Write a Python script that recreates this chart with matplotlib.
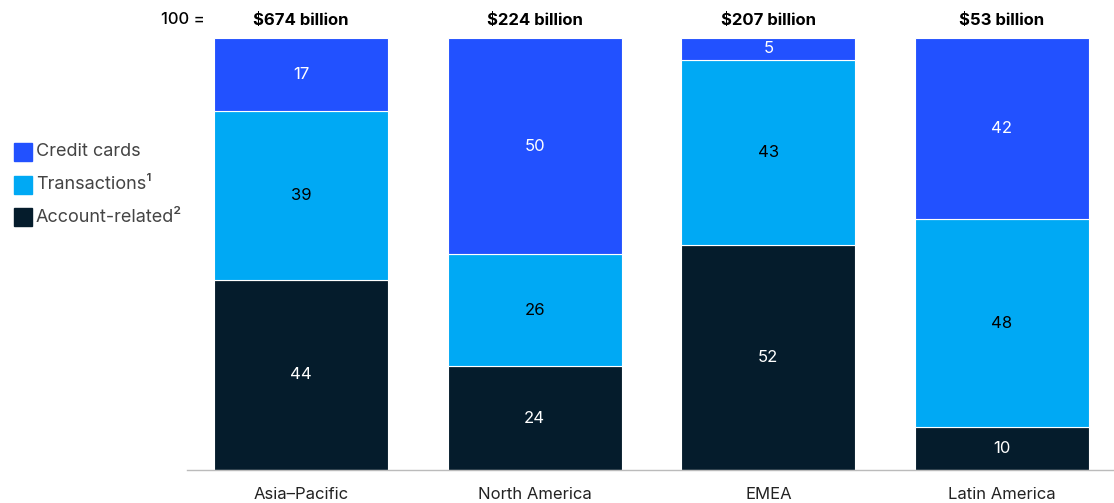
import numpy as np
import matplotlib.pyplot as plt

plt.rcParams['font.family'] = ['Inter', 'DejaVu Sans']

regiones = ["Asia\u2013Pacific", "North America", "EMEA", "Latin America"]
totales = ["$674 billion", "$224 billion", "$207 billion", "$53 billion"]
cuenta = [44, 24, 52, 10]
transacciones = [39, 26, 43, 48]
tarjetas = [17, 50, 5, 42]

series = [
    ("Account-related\u00b2", cuenta, "#051C2C", "white"),
    ("Transactions\u00b9", transacciones, "#00A9F4", "black"),
    ("Credit cards", tarjetas, "#2251FF", "white"),
]

W, H = 1114, 503
fig = plt.figure(figsize=(W / 100, H / 100), dpi=100)
ax = fig.add_axes([187 / W, 33 / H, (W - 187) / W, (470 - 38) / H])

x = np.arange(len(regiones))
paso = 233.67
ancho = 174 / paso
base = np.zeros(len(regiones))
for nombre, vals, color, color_txt in series:
    vals = np.array(vals)
    ax.bar(x, vals, ancho, bottom=base, color=color, edgecolor="white", linewidth=0.8)
    for xi, b, v in zip(x, base, vals):
        ax.text(xi, b + v / 2, str(v), ha="center", va="center",
                color=color_txt, fontsize=12)
    base += vals

ax.set_xlim(-114 / paso, (W - 301) / paso)
ax.set_ylim(0, 100)
for s in ["top", "right", "left"]:
    ax.spines[s].set_visible(False)
ax.spines["bottom"].set_color("#bbbbbb")
ax.spines["bottom"].set_linewidth(1)
ax.set_yticks([])
ax.set_xticks(x)
ax.set_xticklabels(regiones, fontsize=12, color="#222222")
ax.tick_params(axis="x", length=0, pad=12)

# etiquetas de totales
for xi, t in zip(x, totales):
    ax.text(xi, 104, t, ha="center", va="center", fontsize=12, fontweight="bold")
fig.text(205 / W, 1 - 20 / H, "100 =", ha="right", va="center", fontsize=12,
         fontweight="medium")

# leyenda manual
filas = [("Credit cards", "#2251FF"), ("Transactions\u00b9", "#00A9F4"),
         ("Account-related\u00b2", "#051C2C")]
for i, (nombre, color) in enumerate(filas):
    yp = 152 + i * 32.5
    fig.patches.append(plt.Rectangle((14 / W, 1 - (yp + 9) / H), 18 / W, 18 / H,
                                     transform=fig.transFigure, color=color))
    fig.text(36 / W, 1 - yp / H, nombre, ha="left", va="center",
             fontsize=13, color="#444444")

fig.savefig("out.png", dpi=100)
